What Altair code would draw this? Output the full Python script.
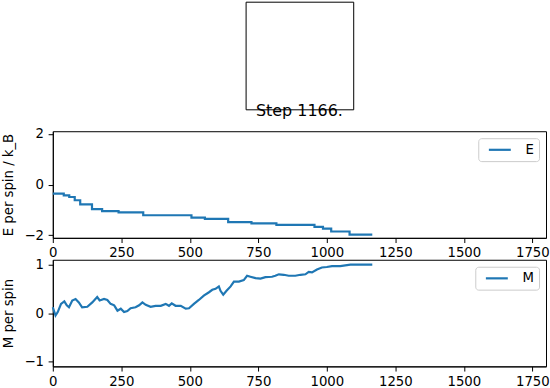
import altair as alt
import pandas as pd

# ---- data ----
E_steps = [0, 40, 60, 80, 100, 143, 180, 240, 330, 506, 555, 640, 725, 816, 955, 986, 1016, 1083, 1166]
E_values = [-0.36, -0.43, -0.49, -0.62, -0.78, -0.97, -1.05, -1.10, -1.21, -1.30, -1.35, -1.48,
            -1.53, -1.59, -1.67, -1.74, -1.85, -1.97, -1.97]

M_steps = [0, 10, 18, 30, 42, 51, 59, 71, 83, 95, 107, 126, 144, 162, 171, 187, 199, 211, 224, 236,
           248, 260, 272, 284, 302, 315, 327, 339, 357, 375, 394, 412, 424, 434, 448, 467, 485, 497,
           515, 533, 551, 570, 582, 594, 606, 612, 622, 634, 649, 661, 679, 697, 709, 721, 740, 758,
           776, 800, 812, 825, 843, 861, 885, 904, 922, 934, 946, 964, 982, 1000, 1019, 1049, 1086, 1166]
M_values = [0.12, -0.05, 0.02, 0.19, 0.24, 0.16, 0.12, 0.26, 0.29, 0.22, 0.12, 0.13, 0.22, 0.33, 0.26,
            0.29, 0.27, 0.19, 0.16, 0.05, 0.09, 0.02, 0.04, 0.10, 0.12, 0.16, 0.22, 0.17, 0.13, 0.15,
            0.15, 0.19, 0.15, 0.20, 0.15, 0.15, 0.09, 0.10, 0.19, 0.27, 0.36, 0.43, 0.48, 0.50, 0.55,
            0.46, 0.38, 0.46, 0.55, 0.65, 0.65, 0.68, 0.77, 0.75, 0.72, 0.71, 0.74, 0.75, 0.77, 0.80,
            0.79, 0.77, 0.77, 0.79, 0.80, 0.85, 0.84, 0.90, 0.94, 0.95, 0.97, 0.97, 1.0, 1.0]

x_ticks = [0, 250, 500, 750, 1000, 1250, 1500, 1750]
E_ticks = [-2, 0, 2]
M_ticks = [-1, 0, 1]
title_text = "Step 1166."
E_label = "E per spin / k_B"
M_label = "M per spin"

FONT = "DejaVu Sans"
BLUE = "#1f77b4"
FS = 13.3

e_df = pd.DataFrame({"step": E_steps, "value": E_values, "series": "E"})
m_df = pd.DataFrame({"step": M_steps, "value": M_values, "series": "M"})

xscale = alt.Scale(domain=[0, 1800], nice=False, zero=False)


def legend():
    return alt.Legend(title=None, orient="top-right", offset=6.7, padding=5,
                      strokeColor="#cccccc", fillColor="rgba(255,255,255,0.8)",
                      cornerRadius=3, symbolType="M-2.2,0H2.2", symbolSize=100,
                      symbolOffset=10, symbolStrokeWidth=2.2, labelFontSize=FS,
                      labelFont=FONT, labelColor="black", labelOffset=19)


def xaxis():
    return alt.Axis(values=x_ticks, title=None, grid=False, format="d", labelPadding=3.3)


def yaxis(ticks, label, h):
    return alt.Axis(values=ticks, title=label, titleX=-44, titleY=h / 2, titleAngle=270,
                    titleBaseline="middle", titleAlign="center", grid=False, format="d")


H = 107
W = 495

top = alt.Chart(pd.DataFrame({"a": [0]})).mark_point(opacity=0, size=1).encode(
    x=alt.value(54), y=alt.value(54)
).properties(width=108, height=108)

e_chart = alt.Chart(e_df).mark_line(interpolate="step-after", strokeWidth=2.2).encode(
    x=alt.X("step:Q", scale=xscale, axis=xaxis()),
    y=alt.Y("value:Q", scale=alt.Scale(domain=[-2.1, 2.1], nice=False, zero=False),
            axis=yaxis(E_ticks, E_label, H)),
    color=alt.Color("series:N", scale=alt.Scale(domain=["E"], range=[BLUE]), legend=legend()),
).properties(width=W, height=H,
             title=alt.TitleParams(title_text, fontSize=16, font=FONT, offset=8,
                                   fontWeight="normal", anchor="middle", frame="group",
                                   color="black"))

m_chart = alt.Chart(m_df).mark_line(strokeWidth=2.2).encode(
    x=alt.X("step:Q", scale=xscale, axis=xaxis()),
    y=alt.Y("value:Q", scale=alt.Scale(domain=[-1.1, 1.1], nice=False, zero=False),
            axis=yaxis(M_ticks, M_label, H)),
    color=alt.Color("series:N", scale=alt.Scale(domain=["M"], range=[BLUE]), legend=legend()),
).properties(width=W, height=H)

chart = alt.vconcat(top, e_chart, m_chart, spacing=22, center=True, bounds="flush").resolve_scale(
    color="independent", x="independent"
).resolve_legend(color="independent").properties(
    padding={"left": 1, "top": 0, "right": 0, "bottom": 0}, background="white"
).configure_view(
    stroke="black", strokeWidth=1
).configure_axis(
    domainColor="black", domainWidth=1, tickColor="black", tickWidth=1, tickSize=4.7,
    labelPadding=4.7, labelFont=FONT, labelFontSize=FS, labelColor="black",
    titleFont=FONT, titleFontSize=FS, titleFontWeight="normal", titleColor="black",
    labelFlush=False, labelOverlap=False
)

chart.save("out.html", embed_options={"renderer": "svg", "actions": False})
